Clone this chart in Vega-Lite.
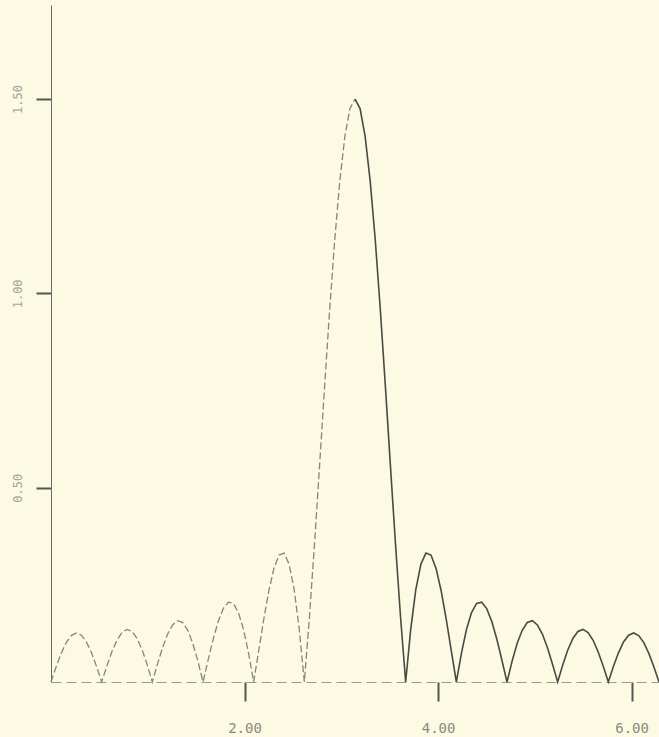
{
  "$schema": "https://vega.github.io/schema/vega-lite/v6.json",
  "autosize": {"type": "none"},
  "padding": {"left": 51, "top": 5, "right": 0, "bottom": 55},
  "width": 608,
  "height": 677,
  "background": "#fcfae2",
  "config": {"view": {"stroke": null}, "axis": {"grid": false, "labelFont": "DejaVu Sans Mono", "title": null}},
  "data": {"values": [
    {"x":0,"y":0},{"x":0.0524,"y":0.0386},{"x":0.1047,"y":0.0736},{"x":0.1571,"y":0.1014},{"x":0.2094,"y":0.1195},{"x":0.2618,"y":0.1261},{"x":0.3142,"y":0.1204},{"x":0.3665,"y":0.1029},{"x":0.4189,"y":0.0751},{"x":0.4712,"y":0.0397},
    {"x":0.5236,"y":0},{"x":0.576,"y":0.0403},{"x":0.6283,"y":0.0773},{"x":0.6807,"y":0.1073},{"x":0.733,"y":0.1273},{"x":0.7854,"y":0.1353},{"x":0.8378,"y":0.1301},{"x":0.8901,"y":0.112},{"x":0.9425,"y":0.0825},{"x":0.9948,"y":0.044},
    {"x":1.0472,"y":0},{"x":1.0996,"y":0.0453},{"x":1.1519,"y":0.0876},{"x":1.2043,"y":0.1227},{"x":1.2566,"y":0.1469},{"x":1.309,"y":0.1576},{"x":1.3614,"y":0.153},{"x":1.4137,"y":0.133},{"x":1.4661,"y":0.0989},{"x":1.5184,"y":0.0533},
    {"x":1.5708,"y":0},{"x":1.6232,"y":0.0561},{"x":1.6755,"y":0.1098},{"x":1.7279,"y":0.1557},{"x":1.7802,"y":0.1889},{"x":1.8326,"y":0.2053},{"x":1.885,"y":0.2023},{"x":1.9373,"y":0.1785},{"x":1.9897,"y":0.1349},{"x":2.042,"y":0.0739},
    {"x":2.0944,"y":0},{"x":2.1468,"y":0.081},{"x":2.1991,"y":0.1618},{"x":2.2515,"y":0.2349},{"x":2.3038,"y":0.2923},{"x":2.3562,"y":0.3266},{"x":2.4086,"y":0.3317},{"x":2.4609,"y":0.303},{"x":2.5133,"y":0.2378},{"x":2.5656,"y":0.136},
    {"x":2.618,"y":0},{"x":2.6704,"y":0.1655},{"x":2.7227,"y":0.3534},{"x":2.7751,"y":0.5549},{"x":2.8274,"y":0.76},{"x":2.8798,"y":0.9577},{"x":2.9322,"y":1.1373},{"x":2.9845,"y":1.2889},{"x":3.0369,"y":1.4039},{"x":3.0892,"y":1.4756},
    {"x":3.1416,"y":1.5},
    {"x":3.194,"y":1.4756},{"x":3.2463,"y":1.4039},{"x":3.2987,"y":1.2889},{"x":3.351,"y":1.1373},{"x":3.4034,"y":0.9577},{"x":3.4558,"y":0.76},{"x":3.5081,"y":0.5549},{"x":3.5605,"y":0.3534},{"x":3.6128,"y":0.1655},{"x":3.6652,"y":0},
    {"x":3.7176,"y":0.136},{"x":3.7699,"y":0.2378},{"x":3.8223,"y":0.303},{"x":3.8746,"y":0.3317},{"x":3.927,"y":0.3266},{"x":3.9794,"y":0.2923},{"x":4.0317,"y":0.2349},{"x":4.0841,"y":0.1618},{"x":4.1364,"y":0.081},{"x":4.1888,"y":0},
    {"x":4.2412,"y":0.0739},{"x":4.2935,"y":0.1349},{"x":4.3459,"y":0.1785},{"x":4.3982,"y":0.2023},{"x":4.4506,"y":0.2053},{"x":4.5029,"y":0.1889},{"x":4.5553,"y":0.1557},{"x":4.6077,"y":0.1098},{"x":4.66,"y":0.0561},{"x":4.7124,"y":0},
    {"x":4.7648,"y":0.0533},{"x":4.8171,"y":0.0989},{"x":4.8695,"y":0.133},{"x":4.9218,"y":0.153},{"x":4.9742,"y":0.1576},{"x":5.0265,"y":0.1469},{"x":5.0789,"y":0.1227},{"x":5.1313,"y":0.0876},{"x":5.1836,"y":0.0453},{"x":5.236,"y":0},
    {"x":5.2883,"y":0.044},{"x":5.3407,"y":0.0825},{"x":5.3931,"y":0.112},{"x":5.4454,"y":0.1301},{"x":5.4978,"y":0.1353},{"x":5.5501,"y":0.1273},{"x":5.6025,"y":0.1073},{"x":5.6549,"y":0.0773},{"x":5.7072,"y":0.0403},{"x":5.7596,"y":0},
    {"x":5.8119,"y":0.0397},{"x":5.8643,"y":0.0751},{"x":5.9166,"y":0.1029},{"x":5.969,"y":0.1204},{"x":6.0214,"y":0.1261},{"x":6.0737,"y":0.1195},{"x":6.1261,"y":0.1014},{"x":6.1784,"y":0.0736},{"x":6.2308,"y":0.0386},{"x":6.2832,"y":0}
  ]},
  "encoding": {
    "x": {"field": "x", "type": "quantitative",
      "scale": {"domain": [0, 6.2832], "nice": false, "zero": false},
      "axis": {"values": [2, 4, 6], "format": ".2f", "tickSize": 19, "tickWidth": 2, "tickColor": "#555550",
        "domainColor": "#9a9a90", "domainDash": [10, 5], "domainWidth": 1,
        "labelPadding": 20, "labelFontSize": 14, "labelColor": "#8a8a84"}},
    "y": {"field": "y", "type": "quantitative",
      "scale": {"domain": [0, 1.742], "nice": false},
      "axis": {"values": [0.5, 1, 1.5], "format": ".2f", "tickSize": 15, "tickWidth": 2, "tickColor": "#555550",
        "domainColor": "#6a6a64", "domainWidth": 1, "labelAngle": 270, "labelPadding": 12,
        "labelFontSize": 12, "labelColor": "#a2a29a"}}
  },
  "layer": [
    {"transform": [{"filter": "datum.x <= 3.1417"}],
     "mark": {"type": "line", "color": "#85857c", "strokeWidth": 1.3, "strokeDash": [7, 3]}},
    {"transform": [{"filter": "datum.x >= 3.1415"}],
     "mark": {"type": "line", "color": "#4a4a45", "strokeWidth": 1.6}}
  ]
}
